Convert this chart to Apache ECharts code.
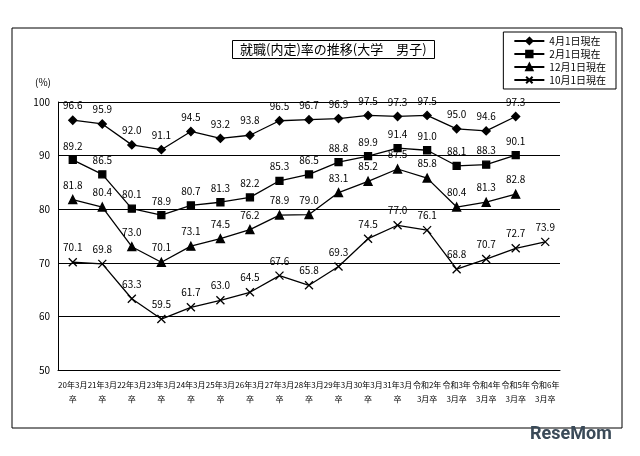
<!DOCTYPE html>
<html><head><meta charset="utf-8">
<script src="https://cdn.jsdelivr.net/npm/echarts@6/dist/echarts.min.js"></script>
<style>body{margin:0;background:#fff}#c{width:640px;height:456px}</style>
</head><body><div id="c"></div>
<script>
var categories=['20年3月\n卒','21年3月\n卒','22年3月\n卒','23年3月\n卒','24年3月\n卒','25年3月\n卒','26年3月\n卒','27年3月\n卒','28年3月\n卒','29年3月\n卒','30年3月\n卒','31年3月\n卒','令和2年\n3月卒','令和3年\n3月卒','令和4年\n3月卒','令和5年\n3月卒','令和6年\n3月卒'];
var apr=[96.6,95.9,92.0,91.1,94.5,93.2,93.8,96.5,96.7,96.9,97.5,97.3,97.5,95.0,94.6,97.3,null];
var feb=[89.2,86.5,80.1,78.9,80.7,81.3,82.2,85.3,86.5,88.8,89.9,91.4,91.0,88.1,88.3,90.1,null];
var dec=[81.8,80.4,73.0,70.1,73.1,74.5,76.2,78.9,79.0,83.1,85.2,87.5,85.8,80.4,81.3,82.8,null];
var oct=[70.1,69.8,63.3,59.5,61.7,63.0,64.5,67.6,65.8,69.3,74.5,77.0,76.1,68.8,70.7,72.7,73.9];
var names=['4月1日現在','2月1日現在','12月1日現在','10月1日現在'];
var yTicks=[50,60,70,80,90,100];

var chart=echarts.init(document.getElementById('c'));
var font='"Noto Sans CJK JP", sans-serif';
function mk(name,data,sym,size,pos){
    return {name:name,type:'line',data:data,symbol:sym,symbolSize:size,
        lineStyle:{color:'#000',width:1.3},itemStyle:{color:'#000',borderColor:'#000',borderWidth:1.3},
        label:{show:true,position:pos,color:'#000',fontSize:10,fontFamily:font,formatter:function(p){return p.value.toFixed(1);}}};
}
chart.setOption({
    animation:false,
    textStyle:{fontFamily:font},
    title:{text:'就職(内定)率の推移(大学　男子)',left:232,top:40,textStyle:{fontSize:13,fontWeight:'normal',color:'#000'},
        borderColor:'#000',borderWidth:1,padding:[3,8]},
    legend:{right:24,top:32,orient:'vertical',itemGap:3,itemWidth:30,itemHeight:8,
        borderColor:'#000',borderWidth:1,padding:[4,10],
        textStyle:{fontSize:10,color:'#000'},data:names},
    grid:{left:58,right:80,top:102,bottom:86},
    xAxis:{type:'category',data:categories,boundaryGap:true,
        axisLine:{lineStyle:{color:'#000'}},axisTick:{show:false},
        axisLabel:{color:'#000',fontSize:8,interval:0,lineHeight:14}},
    yAxis:{type:'value',min:yTicks[0],max:yTicks[yTicks.length-1],interval:10,name:'(%)',
        nameTextStyle:{color:'#000',fontSize:10,padding:[0,30,0,0]},
        axisLine:{show:true,lineStyle:{color:'#000'}},axisTick:{show:false},
        axisLabel:{color:'#000',fontSize:10},
        splitLine:{lineStyle:{color:'#000',width:1}}},
    graphic:[
        {type:'rect',shape:{x:12,y:28,width:610,height:400},style:{fill:'none',stroke:'#000',lineWidth:1}},
        {type:'text',left:530,top:425,style:{text:'ReseMom',fontSize:18,fontWeight:'bold',fill:'#3a4a58',fontFamily:'Roboto'}}
    ],
    series:[
        mk(names[0],apr,'diamond',8,'top'),
        mk(names[1],feb,'rect',7,'top'),
        mk(names[2],dec,'triangle',8,'top'),
        mk(names[3],oct,'path://M0,0L10,10M10,0L0,10',8,'top')
    ]
});
</script></body></html>
